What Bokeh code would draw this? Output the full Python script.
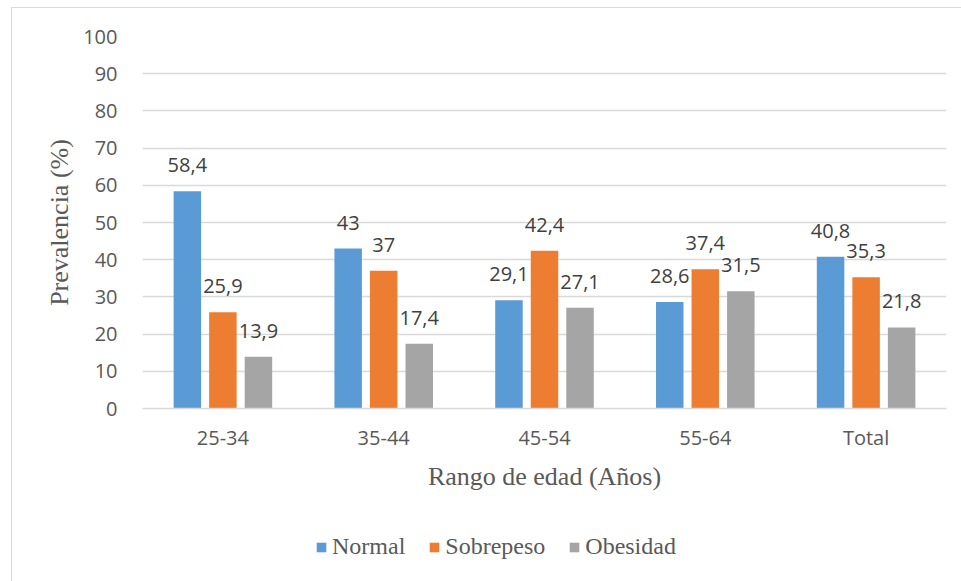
from bokeh.plotting import figure
from bokeh.layouts import column
from bokeh.models import ColumnDataSource, FactorRange, Range1d, Legend, LegendItem
from bokeh.transform import dodge
from bokeh.core.properties import value
from bokeh.embed import file_html
from bokeh.resources import INLINE

# ---- data ----
categories = ["25-34", "35-44", "45-54", "55-64", "Total"]
normal = [58.4, 43, 29.1, 28.6, 40.8]
sobrepeso = [25.9, 37, 42.4, 37.4, 35.3]
obesidad = [13.9, 17.4, 27.1, 31.5, 21.8]
series_names = ["Normal", "Sobrepeso", "Obesidad"]
y_ticks = [0, 10, 20, 30, 40, 50, 60, 70, 80, 90, 100]
y_title = "Prevalencia (%)"
x_title = "Rango de edad (Años)"

colors = ["#5B9BD5", "#ED7D31", "#A5A5A5"]
offsets = [-0.221, 0.0, 0.221]
bar_w = 0.171


def fmt(v):
    return f"{v:g}".replace(".", ",")


W = 949
p = figure(
    x_range=FactorRange(*categories),
    y_range=Range1d(0, 100),
    width=W,
    height=498,
    output_backend="svg",
    toolbar_location=None,
    min_border_left=130,
    min_border_right=15,
    min_border_top=28,
    min_border_bottom=98,
)
p.outline_line_color = None
p.background_fill_color = "white"
p.border_fill_color = "white"

for name, vals, col, off in zip(series_names, [normal, sobrepeso, obesidad], colors, offsets):
    src = ColumnDataSource(dict(cat=categories, val=vals, lab=[fmt(v) for v in vals]))
    p.vbar(x=dodge("cat", off, range=p.x_range), top="val", width=bar_w,
           source=src, fill_color=col, line_color=None)
    p.text(x=dodge("cat", off, range=p.x_range), y="val", text="lab", source=src,
           text_align="center", text_baseline="middle", y_offset=-26,
           text_font=value("Open Sans"), text_font_size="20px", text_color="#404040")

# grid
p.xgrid.grid_line_color = None
p.ygrid.grid_line_color = "#d9d9d9"
p.ygrid.grid_line_width = 1.5

# y axis
p.yaxis.ticker = y_ticks
p.yaxis.axis_line_color = None
p.yaxis.major_tick_line_color = None
p.yaxis.minor_tick_line_color = None
p.yaxis.major_label_standoff = 19
p.yaxis.major_label_text_font = "Open Sans"
p.yaxis.major_label_text_font_size = "20px"
p.yaxis.major_label_text_color = "#595959"
p.yaxis.axis_label = y_title
p.yaxis.axis_label_text_font = "Liberation Serif"
p.yaxis.axis_label_text_font_size = "26px"
p.yaxis.axis_label_text_font_style = "normal"
p.yaxis.axis_label_text_color = "#595959"
p.yaxis.axis_label_standoff = 6

# x axis
p.xaxis.axis_line_color = "#d9d9d9"
p.xaxis.axis_line_width = 1.5
p.xaxis.major_tick_line_color = None
p.xaxis.minor_tick_line_color = None
p.xaxis.major_label_standoff = 9
p.xaxis.major_label_text_font = "Open Sans"
p.xaxis.major_label_text_font_size = "20px"
p.xaxis.major_label_text_color = "#595959"
p.xaxis.axis_label = x_title
p.xaxis.axis_label_text_font = "Liberation Serif"
p.xaxis.axis_label_text_font_size = "26px"
p.xaxis.axis_label_text_font_style = "normal"
p.xaxis.axis_label_text_color = "#595959"
p.xaxis.axis_label_standoff = 8

# legend strip (separate figure so the legend is not clipped)
LH = 76
q = figure(width=W, height=LH, x_range=Range1d(0, 1), y_range=Range1d(0, 1),
           output_backend="svg", toolbar_location=None, min_border=0)
q.axis.visible = False
q.grid.grid_line_color = None
q.outline_line_color = None
q.background_fill_color = "white"
q.border_fill_color = "white"
items = []
for name, col in zip(series_names, colors):
    # legend proxy, kept outside the visible range
    r = q.vbar(x=[-5], top=[-5], bottom=[-6], width=0.1, fill_color=col, line_color=None)
    items.append(LegendItem(label=name, renderers=[r]))
legend = Legend(items=items, orientation="horizontal", location=(173, 22),
                label_text_font="Liberation Serif", label_text_font_size="24px",
                label_text_color="#595959", glyph_width=12, glyph_height=12,
                label_standoff=5, spacing=23, border_line_color=None,
                background_fill_alpha=0, padding=0, margin=0)
q.add_layout(legend, "center")

layout = column(p, q, spacing=0, margin=(7, 0, 0, 11))
layout.styles = {"border-left": "1px solid #d9d9d9", "border-top": "1px solid #d9d9d9"}

open("out.html", "w").write(file_html(layout, INLINE))
